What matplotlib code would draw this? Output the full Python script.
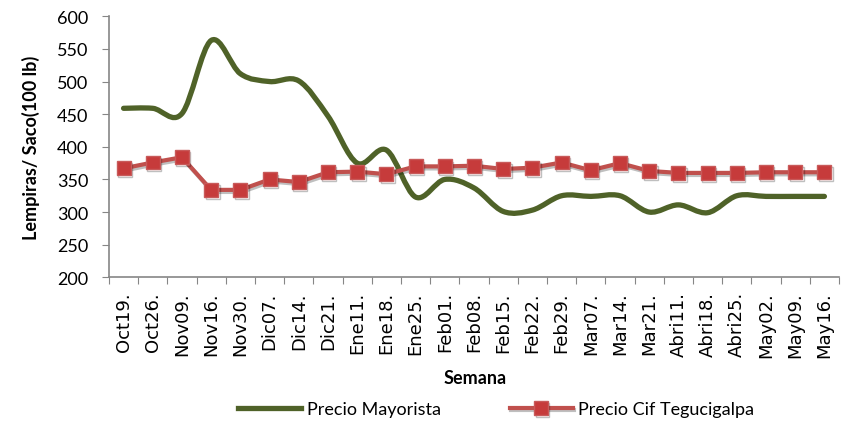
import matplotlib
matplotlib.use('Agg')
import matplotlib.pyplot as plt
import numpy as np
from matplotlib.path import Path
from matplotlib.patches import PathPatch
import matplotlib.patheffects as pe

# Semanas (eje X)
semanas = ['Oct19.', 'Oct26.', 'Nov09.', 'Nov16.', 'Nov30.', 'Dic07.', 'Dic14.',
           'Dic21.', 'Ene11.', 'Ene18.', 'Ene25.', 'Feb01.', 'Feb08.', 'Feb15.',
           'Feb22.', 'Feb29.', 'Mar07.', 'Mar14.', 'Mar21.', 'Abri11.', 'Abri18.',
           'Abri25.', 'May02.', 'May09.', 'May16.']

# Precio mayorista (Lempiras / saco 100 lb)
precio_mayorista = [459, 459, 451, 563, 512, 500, 501, 447, 375, 395, 323, 350,
                    337, 301, 303, 325, 324, 325, 300, 311, 299, 325, 324, 324, 324]

# Precio CIF Tegucigalpa
precio_cif = [367, 376, 384, 334, 334, 350, 346, 361, 362, 358, 370, 370,
              371, 366, 368, 376, 364, 375, 363, 360, 360, 360, 361, 361, 361]

verde = '#4F6228'
rojo = '#C0504D'

fig = plt.figure(figsize=(8.6, 4.27), dpi=100)
ax = fig.add_axes([0.1267, 0.3482, 0.9756 - 0.1267, 0.9595 - 0.3482])

x = np.arange(len(semanas)) + 0.5


# Linea suavizada (estilo Excel) con curvas de Bezier entre los puntos
def smooth_path(xs, ys):
    pts = np.column_stack([xs, ys]).astype(float)
    verts = [pts[0]]
    codes = [Path.MOVETO]
    n = len(pts)
    for i in range(n - 1):
        p0 = pts[i - 1] if i > 0 else pts[i]
        p1 = pts[i]
        p2 = pts[i + 1]
        p3 = pts[i + 2] if i + 2 < n else pts[i + 1]
        c1 = p1 + (p2 - p0) / 6.0
        c2 = p2 - (p3 - p1) / 6.0
        verts += [c1, c2, p2]
        codes += [Path.CURVE4] * 3
    return Path(verts, codes)


patch = PathPatch(smooth_path(x, precio_mayorista), facecolor='none',
                  edgecolor=verde, lw=3.8, capstyle='round', joinstyle='round',
                  zorder=3)
ax.add_patch(patch)
# linea invisible solo para la leyenda
ax.plot([], [], color=verde, lw=3.8, label='Precio Mayorista')

ax.plot(x, precio_cif, color=rojo, lw=3.0, marker='s', markersize=10,
        markerfacecolor='#C63B3B', markeredgecolor='#C85A5A', markeredgewidth=1,
        label='Precio Cif Tegucigalpa', zorder=4,
        path_effects=[pe.SimpleLineShadow(offset=(1, -1.5), alpha=0.25), pe.Normal()])

ax.set_xlim(0, len(semanas))
ax.set_ylim(200, 600)
ax.set_yticks(range(200, 601, 50))
ax.set_xticks(range(0, len(semanas) + 1))
ax.set_xticklabels([])
ax.set_xticks(x, minor=True)
ax.set_xticklabels(semanas, minor=True, rotation=90, fontsize=13,
                   family='DejaVu Sans')
ax.tick_params(axis='x', which='minor', length=0, pad=10)
ax.tick_params(axis='x', which='major', length=5, color='#868686', direction='out')
ax.tick_params(axis='y', length=5, color='#868686', direction='out',
               labelsize=13, pad=10)
for lbl in ax.get_yticklabels():
    lbl.set_family('Lato')

for s in ['top', 'right']:
    ax.spines[s].set_visible(False)
for s in ['left', 'bottom']:
    ax.spines[s].set_color('#868686')
    ax.spines[s].set_linewidth(1.2)

ax.set_ylabel('Lempiras/ Saco(100 lb)', fontsize=13, fontweight='bold',
              family='Lato', labelpad=12)
ax.set_xlabel('Semana', fontsize=13, fontweight='bold', family='Lato')
ax.xaxis.set_label_coords(0.501, -0.382)
ax.xaxis.label.set_va('center')

handles, labels = ax.get_legend_handles_labels()
fig.legend(handles, labels, loc='center', bbox_to_anchor=(0.577, 0.04), ncol=2,
           frameon=False, prop={'family': 'Lato', 'size': 13},
           handlelength=3.5, columnspacing=3.8, handletextpad=0.3)

fig.savefig('out.png', dpi=100)
